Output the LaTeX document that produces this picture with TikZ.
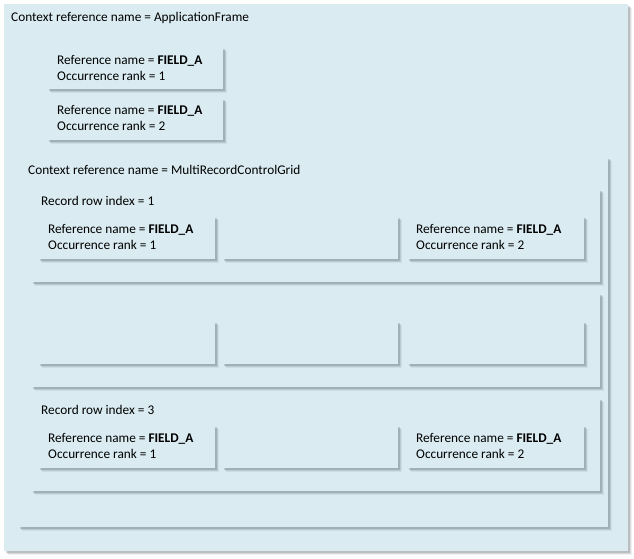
\documentclass[tikz,border=0pt]{standalone}
\usepackage{fontspec}
\setmainfont{Carlito}
\usetikzlibrary{shadows}
\definecolor{boxfill}{RGB}{218,236,242}
\definecolor{shadowc}{RGB}{60,70,80}
\tikzset{
  box/.style={fill=boxfill, draw=none, inner sep=0pt, outer sep=0pt, anchor=north west,
    drop shadow={shadow xshift=3.5pt, shadow yshift=-4pt, fill=shadowc, opacity=0.08},
    drop shadow={shadow xshift=2.5pt, shadow yshift=-3pt, fill=shadowc, opacity=0.12},
    drop shadow={shadow xshift=1.5pt, shadow yshift=-2pt, fill=shadowc, opacity=0.2}},
  txt/.style={inner sep=0pt, anchor=west, align=left, font=\fontsize{13.3}{16}\selectfont},
}
\begin{document}
\begin{tikzpicture}[x=1pt,y=-1pt]
\useasboundingbox (0,0) rectangle (634,559);
% outer frame
\node[box, minimum width=624pt, minimum height=547pt] (app) at (4,4) {};
\node[txt] (appt) at (11,18) {Context reference name = ApplicationFrame};
\node[box, minimum width=176pt, minimum height=42pt] (f1) at (47,47) {};
\node[txt] (f1t) at (57,68) {Reference name = \textbf{FIELD\_A}\\Occurrence rank = 1};
\node[box, minimum width=176pt, minimum height=42pt] (f2) at (47,98) {};
\node[txt] (f2t) at (57,118) {Reference name = \textbf{FIELD\_A}\\Occurrence rank = 2};
% grid
\node[box, minimum width=590pt, minimum height=370pt] (grid) at (18,157) {};
\node[txt] (gridt) at (28,170) {Context reference name = MultiRecordControlGrid};
% rows
\node[box, minimum width=569pt, minimum height=93pt] (r1) at (31,189) {};
\node[txt] (r1t) at (41,201) {Record row index = 1};
\node[box, minimum width=569pt, minimum height=94pt] (r2) at (31,293) {};
\node[box, minimum width=569pt, minimum height=93pt] (r3) at (31,398) {};
\node[txt] (r3t) at (41,410) {Record row index = 3};
% row 1 cells
\node[box, minimum width=177pt, minimum height=43pt] (c11) at (38,216) {};
\node[box, minimum width=176pt, minimum height=43pt] (c12) at (222,216) {};
\node[box, minimum width=177pt, minimum height=43pt] (c13) at (407,216) {};
\node[txt] (c11t) at (48,237) {Reference name = \textbf{FIELD\_A}\\Occurrence rank = 1};
\node[txt] (c13t) at (416,237) {Reference name = \textbf{FIELD\_A}\\Occurrence rank = 2};
% row 2 cells
\node[box, minimum width=177pt, minimum height=43pt] (c21) at (38,321) {};
\node[box, minimum width=176pt, minimum height=43pt] (c22) at (222,321) {};
\node[box, minimum width=177pt, minimum height=43pt] (c23) at (407,321) {};
% row 3 cells
\node[box, minimum width=177pt, minimum height=43pt] (c31) at (38,425) {};
\node[box, minimum width=176pt, minimum height=43pt] (c32) at (222,425) {};
\node[box, minimum width=177pt, minimum height=43pt] (c33) at (407,425) {};
\node[txt] (c31t) at (48,446) {Reference name = \textbf{FIELD\_A}\\Occurrence rank = 1};
\node[txt] (c33t) at (416,446) {Reference name = \textbf{FIELD\_A}\\Occurrence rank = 2};
\end{tikzpicture}
\end{document}
